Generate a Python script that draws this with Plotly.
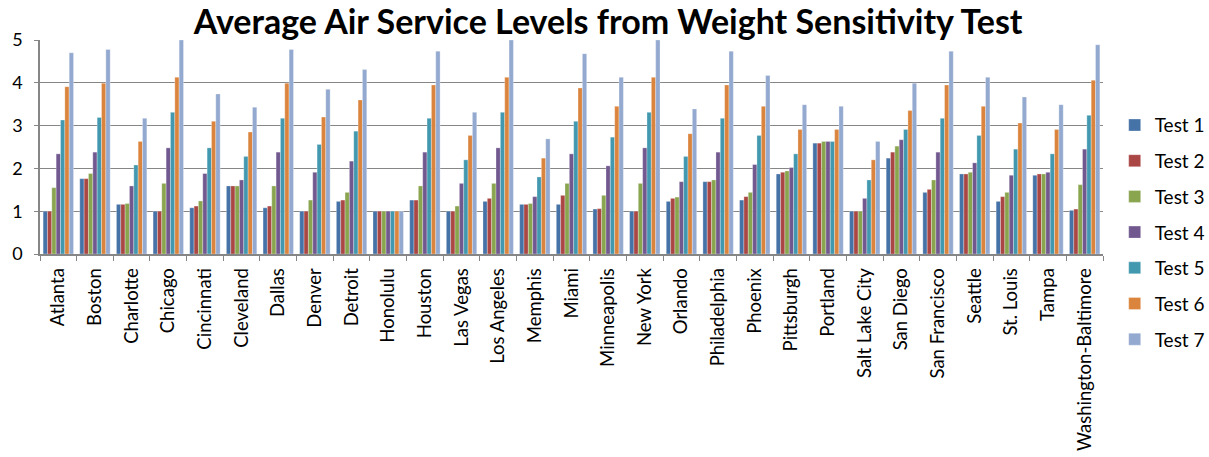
import plotly.graph_objects as go

cities = ["Atlanta", "Boston", "Charlotte", "Chicago", "Cincinnati", "Cleveland", "Dallas",
          "Denver", "Detroit", "Honolulu", "Houston", "Las Vegas", "Los Angeles", "Memphis",
          "Miami", "Minneapolis", "New York", "Orlando", "Philadelphia", "Phoenix",
          "Pittsburgh", "Portland", "Salt Lake City", "San Diego", "San Francisco",
          "Seattle", "St. Louis", "Tampa", "Washington-Baltimore"]

test1 = [1.00, 1.76, 1.16, 1.00, 1.08, 1.59, 1.08, 1.00, 1.23, 1.00, 1.26, 1.00, 1.23, 1.16,
         1.16, 1.05, 1.00, 1.23, 1.69, 1.26, 1.87, 2.59, 1.00, 2.24, 1.44, 1.87, 1.23, 1.84, 1.02]
test2 = [1.00, 1.76, 1.16, 1.00, 1.12, 1.59, 1.12, 1.00, 1.26, 1.00, 1.26, 1.00, 1.30, 1.16,
         1.37, 1.06, 1.00, 1.30, 1.69, 1.34, 1.91, 2.59, 1.00, 2.38, 1.51, 1.87, 1.34, 1.87, 1.05]
test3 = [1.55, 1.88, 1.18, 1.65, 1.24, 1.59, 1.59, 1.26, 1.44, 1.00, 1.59, 1.12, 1.65, 1.18,
         1.65, 1.37, 1.65, 1.33, 1.73, 1.44, 1.94, 2.63, 1.00, 2.52, 1.73, 1.91, 1.44, 1.87, 1.62]
test4 = [2.34, 2.38, 1.59, 2.48, 1.88, 1.73, 2.38, 1.91, 2.17, 1.00, 2.38, 1.65, 2.48, 1.34,
         2.34, 2.06, 2.48, 1.69, 2.38, 2.09, 2.02, 2.63, 1.30, 2.67, 2.38, 2.13, 1.84, 1.91, 2.45]
test5 = [3.13, 3.19, 2.08, 3.31, 2.48, 2.28, 3.17, 2.56, 2.87, 1.00, 3.17, 2.20, 3.31, 1.80,
         3.10, 2.73, 3.31, 2.28, 3.17, 2.77, 2.34, 2.63, 1.73, 2.91, 3.17, 2.77, 2.45, 2.34, 3.24]
test6 = [3.91, 3.99, 2.63, 4.13, 3.10, 2.85, 3.99, 3.20, 3.60, 1.00, 3.95, 2.77, 4.13, 2.24,
         3.88, 3.45, 4.13, 2.81, 3.95, 3.45, 2.91, 2.91, 2.20, 3.35, 3.95, 3.45, 3.06, 2.91, 4.06]
test7 = [4.70, 4.78, 3.17, 5.00, 3.74, 3.43, 4.78, 3.85, 4.31, 1.00, 4.74, 3.31, 5.00, 2.69,
         4.68, 4.13, 5.00, 3.39, 4.74, 4.17, 3.49, 3.45, 2.63, 3.99, 4.74, 4.13, 3.67, 3.49, 4.89]

series_names = ["Test 1", "Test 2", "Test 3", "Test 4", "Test 5", "Test 6", "Test 7"]
series_values = [test1, test2, test3, test4, test5, test6, test7]
colors = ["#4572A7", "#AA4643", "#89A54E", "#71588F", "#4198AF", "#DB843D", "#93A9CF"]

FONT = "Lato"

fig = go.Figure()
for name, vals, col in zip(series_names, series_values, colors):
    fig.add_trace(go.Bar(
        x=cities, y=vals, name=name, legendgroup=name,
        marker=dict(color=col, line=dict(color="rgba(255,255,255,0.5)", width=0.6)),
    ))

fig.update_layout(
    width=1209, height=457,
    margin=dict(l=40, r=106, t=40, b=203, autoexpand=False),
    paper_bgcolor="white", plot_bgcolor="white",
    barmode="group", bargap=0.17, bargroupgap=0,
    font=dict(family=FONT, color="black"),
    title=dict(text="<b>Average Air Service Levels from Weight Sensitivity Test</b>",
               xref="container", x=0.503, xanchor="center",
               yref="container", y=0.952, yanchor="middle",
               font=dict(size=34, family=FONT, color="black")),
    legend=dict(xref="container", x=0.922, xanchor="left",
                yref="container", y=0.492, yanchor="middle",
                font=dict(size=19, family=FONT, color="black"),
                tracegroupgap=8, itemwidth=30, bgcolor="rgba(0,0,0,0)",
                maxheight=440),
    showlegend=True,
)
fig.update_xaxes(
    type="category", tickangle=-90, tickfont=dict(size=18.5, family=FONT, color="black"),
    showline=True, linecolor="#868686", linewidth=1.5,
    ticks="outside", tickson="boundaries", ticklen=5, tickcolor="#868686",
    showgrid=False, ticklabelstandoff=5, automargin=False,
)
fig.update_yaxes(
    range=[0, 5], dtick=1, tickfont=dict(size=18, family=FONT, color="black"),
    showline=True, linecolor="#868686", linewidth=1.5,
    showgrid=True, gridcolor="#868686", gridwidth=1.2,
    ticks="outside", ticklen=4, tickcolor="#868686", zeroline=False,
    ticklabelstandoff=8, automargin=False,
)

fig.write_html("out.html")
